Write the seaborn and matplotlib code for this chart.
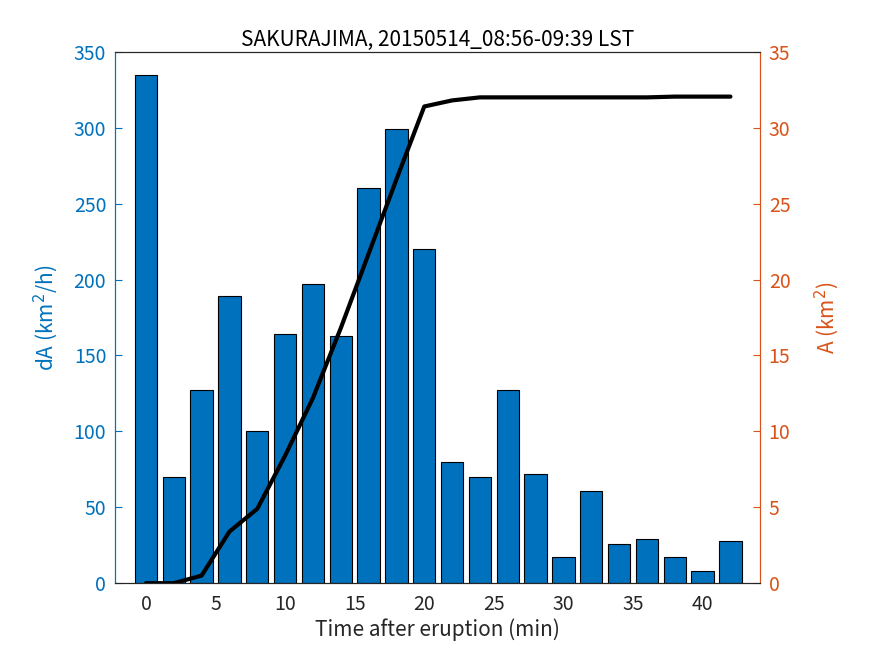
import matplotlib
matplotlib.use("Agg")
import matplotlib.pyplot as plt
import seaborn as sns
import pandas as pd

# data
minutes = [0, 2, 4, 6, 8, 10, 12, 14, 16, 18, 20, 22, 24, 26, 28, 30, 32, 34, 36, 38, 40, 42]
dA = [335, 70, 127, 189, 100, 164, 197, 163, 260, 299, 220, 80, 70, 127, 72, 17, 61, 26, 29, 17, 8, 28]
A = [0, 0, 0.5, 3.4, 4.9, 8.4, 12.2, 16.8, 21.7, 26.6, 31.4, 31.8, 32.0, 32.0, 32.0, 32.0,
     32.0, 32.0, 32.0, 32.05, 32.05, 32.05]

blue = "#0072BD"
orange = "#D95319"
dark = "#262626"

df = pd.DataFrame({"t": minutes, "dA": dA, "A": A})

sns.set_style("white")
plt.rcParams["font.family"] = ["Noto Sans CJK JP", "DejaVu Sans"]

fig = plt.figure(figsize=(8.75, 6.56), dpi=100)
ax = fig.add_axes([0.131, 0.111, 0.738, 0.810])

sns.barplot(data=df, x="t", y="dA", native_scale=True, width=0.8,
            color=blue, saturation=1, edgecolor="black", linewidth=0.8, ax=ax)
ax.set_xlim(-2.25, 44.15)
ax.set_ylim(0, 350)
ax.set_xticks([0, 5, 10, 15, 20, 25, 30, 35, 40])
ax.set_yticks(range(0, 351, 50))
ax.set_xlabel("Time after eruption (min)", fontsize=15, color=dark, labelpad=2)
ax.set_ylabel("dA (km$^2$/h)", fontsize=15, color=blue, labelpad=10)
ax.set_title("SAKURAJIMA, 20150514_08:56-09:39 LST", fontsize=15, color="black", pad=4)

ax2 = ax.twinx()
sns.lineplot(data=df, x="t", y="A", color="black", linewidth=3, ax=ax2)
ax2.set_ylim(0, 35)
ax2.set_yticks(range(0, 36, 5))
ax2.set_ylabel("A (km$^2$)", fontsize=15, color=orange, labelpad=16)

ax.tick_params(axis="x", direction="in", colors=dark, labelsize=14, length=5, pad=8, top=False)
ax.tick_params(axis="y", direction="in", colors=blue, labelsize=14, length=5, pad=6)
ax2.tick_params(axis="y", direction="in", colors=orange, labelsize=14, length=5, pad=6)

for a in (ax, ax2):
    a.spines["bottom"].set_color(dark)
    a.spines["top"].set_color(dark)
    a.spines["left"].set_color(blue)
    a.spines["right"].set_color(orange)
    for s in a.spines.values():
        s.set_linewidth(0.8)

fig.savefig("out.png", dpi=100)
